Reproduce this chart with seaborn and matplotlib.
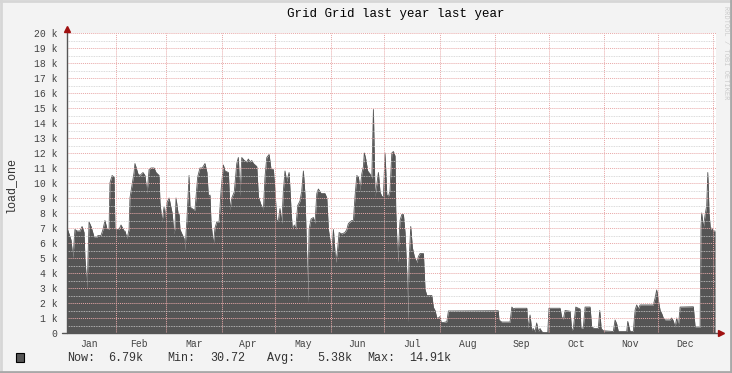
import matplotlib
matplotlib.use("Agg")
import matplotlib.pyplot as plt
import matplotlib.patches as mpatches
from matplotlib.lines import Line2D
import seaborn as sns
import pandas as pd

# load_one in thousands, sampled on day-of-year (0 = Jan 1)
jan_mar_days = [3.4, 4.5, 5.6, 6.7, 7.8, 9.0, 10.6, 11.8, 12.9, 13.4, 14.6, 15.7, 16.8, 18.5,
                20.2, 20.7, 22.4, 23.5, 24.6, 25.8, 26.9, 27.4, 28.6, 29.7, 30.2, 32.5, 33.6,
                35.3, 35.8, 37.0, 38.1, 38.6, 40.9, 41.4, 43.1, 44.2, 45.9, 47.0, 48.2, 49.3,
                50.4, 52.1, 53.2, 54.9, 55.4, 56.6, 57.7, 58.2, 59.4, 60.5, 61.0, 62.2, 63.3,
                63.8, 64.4, 65.5, 66.1, 66.6, 67.7, 68.9, 69.4, 70.5, 71.7, 72.2, 74.5, 75.0]
jan_mar_vals = [7.0, 6.6, 6.2, 5.0, 6.9, 6.8, 6.8, 7.1, 6.7, 5.0, 2.9, 7.4, 7.1, 6.4,
                6.4, 6.5, 6.5, 6.9, 7.5, 6.9, 6.9, 10.0, 10.5, 10.4, 6.9, 6.9, 7.2,
                6.8, 6.8, 6.3, 6.9, 9.0, 10.7, 11.3, 10.6, 10.5, 10.7, 10.5, 9.3, 10.9,
                11.0, 11.0, 10.7, 10.5, 8.7, 7.4, 8.4, 7.7, 8.7, 9.0, 8.7, 8.0, 6.6,
                7.0, 9.0, 8.0, 7.9, 6.9, 6.6, 6.3, 5.5, 7.6, 10.5, 8.4, 8.2, 8.2]

mar_may_days = [76.5, 77.8, 79.1, 80.6, 81.7, 82.5, 83.4, 84.0, 85.3, 86.2, 87.2, 88.5, 89.6,
                90.9, 91.8, 93.7, 94.6, 95.6, 97.0, 98.4, 99.3, 100.2, 101.2, 102.6, 104.0,
                104.9, 105.8, 106.8, 107.7, 109.6, 110.5, 111.8, 113.3, 114.2, 115.2, 116.5,
                117.6, 118.9, 119.8, 120.8, 121.7, 122.6, 123.6, 124.5, 125.4, 126.4, 127.7,
                128.8, 129.5, 130.6, 131.4, 132.5, 133.8, 134.8, 135.7, 136.6, 137.6, 138.1,
                138.9, 140.0, 141.3, 142.2, 143.2, 144.1, 145.6, 146.9]
mar_may_vals = [10.4, 11.0, 11.0, 11.3, 10.7, 9.1, 9.2, 7.3, 5.9, 7.0, 7.4, 7.4, 9.5,
                11.2, 10.8, 10.7, 8.2, 9.0, 9.4, 11.3, 11.7, 9.1, 11.7, 11.5, 11.4,
                11.6, 11.4, 11.5, 11.3, 11.1, 9.1, 8.6, 8.2, 10.4, 11.7, 11.9,
                10.9, 10.9, 9.5, 7.5, 7.5, 8.3, 7.3, 9.5, 10.8, 10.1, 10.7,
                8.2, 6.9, 7.2, 6.9, 8.5, 8.8, 9.5, 10.8, 9.2, 5.0, 2.0,
                6.9, 7.6, 7.7, 7.3, 9.3, 9.6, 9.3, 9.3]

jun_aug_days = [147.8, 148.8, 149.7, 150.6, 151.6, 152.5, 153.8, 154.7, 155.7, 157.2, 159.0,
                160.0, 160.9, 162.8, 163.7, 164.6, 165.6, 166.5, 167.4, 168.4, 169.3, 169.8,
                170.6, 171.7, 173.0, 174.0, 174.9, 175.8, 176.8, 177.7, 178.6, 179.6, 180.5,
                181.4, 182.4, 183.3, 184.2, 185.2, 186.1, 187.0, 187.4, 188.5, 189.8, 190.8,
                191.7, 192.6, 193.6, 194.1, 194.8, 195.8, 196.7, 197.8, 199.2, 200.1, 201.0,
                202.9, 203.8, 204.8, 206.6, 207.6, 208.5, 209.4, 210.4, 211.3, 212.2, 212.8,
                214.1, 216.0, 216.9]
jun_aug_vals = [9.3, 9.0, 6.9, 6.2, 5.4, 6.9, 4.7, 5.4, 6.7, 6.6, 6.7,
                6.9, 7.3, 7.5, 7.5, 9.1, 10.5, 10.4, 9.5, 10.6, 11.1, 12.0,
                11.6, 10.8, 10.6, 10.3, 14.9, 9.1, 9.9, 10.7, 9.4, 9.1, 9.1,
                12.0, 9.2, 9.1, 9.5, 12.0, 12.1, 11.8, 8.2, 4.7, 7.5, 7.9,
                7.9, 6.7, 4.0, 0.7, 4.6, 7.1, 5.7, 5.1, 4.7, 5.1, 5.3,
                5.3, 2.9, 2.5, 2.5, 2.5, 1.7, 1.5, 1.0, 1.0, 1.1, 0.7,
                0.7, 0.75, 1.47]

sep_dec_days = [244.8, 245.2, 246.7, 251.4, 252.4, 253.3, 254.2, 260.8, 261.3, 262.6, 263.5,
                264.4, 265.4, 266.3, 267.2, 268.2, 269.1, 270.0, 272.5, 273.2, 279.4, 280.3,
                281.2, 282.2, 285.0, 285.9, 286.8, 288.2, 289.6, 290.6, 291.1, 292.4, 293.4,
                296.2, 297.1, 298.6, 300.8, 301.6, 302.4, 303.6, 309.2, 310.2, 311.1, 312.0,
                316.7, 317.3, 318.6, 320.4, 321.4, 322.3, 323.2, 324.2, 331.6, 332.6, 333.5,
                334.4, 335.4, 336.3, 337.2, 338.2, 341.0, 341.9, 342.8, 343.8, 344.7, 345.6,
                346.6, 354.0, 355.0, 357.8, 358.3, 358.7, 359.6, 360.5, 361.5, 362.1, 362.8,
                363.6, 364.3, 365.2, 366.2]
sep_dec_vals = [1.49, 0.87, 0.73, 0.73, 1.73, 1.6, 1.65, 1.65, 0.33, 1.2, 0.2,
                0.3, 0.07, 0.67, 0.1, 0.3, 0.1, 0.03, 0.03, 1.65, 1.65, 1.07,
                0.9, 1.5, 1.45, 0.2, 0.3, 1.73, 1.65, 1.6, 0.3, 0.35, 1.73,
                1.73, 0.4, 0.3, 0.3, 1.5, 0.3, 0.15, 0.1, 0.87, 0.6, 0.1,
                0.1, 0.77, 0.1, 0.1, 1.53, 1.87, 1.6, 1.87, 1.87, 2.33, 2.87,
                2.2, 1.5, 1.3, 1.0, 0.87, 0.87, 1.0, 0.8, 0.4, 1.0, 0.4,
                1.73, 1.75, 0.4, 0.4, 7.1, 8.0, 7.0, 7.8, 8.5, 10.7, 8.0,
                6.87, 7.0, 6.8, 6.8]

month_starts = [31, 59, 90, 120, 151, 181, 212, 243, 273, 304, 334, 365]
month_names = ["Jan", "Feb", "Mar", "Apr", "May", "Jun", "Jul", "Aug", "Sep", "Oct", "Nov", "Dec"]
legend_labels = ["Now:", "6.79k", "Min:", "30.72", "Avg:", "5.38k", "Max:", "14.91k"]

df = pd.DataFrame({
    "day": jan_mar_days + mar_may_days + jun_aug_days + sep_dec_days,
    "load": jan_mar_vals + mar_may_vals + jun_aug_vals + sep_dec_vals,
})

sns.set_style("white")
plt.rcParams['font.family'] = ['Liberation Mono', 'DejaVu Sans Mono']

W, H = 732, 373
fig = plt.figure(figsize=(W / 100, H / 100), dpi=100, facecolor='#f3f3f3')
ax = fig.add_axes([67 / W, (H - 333) / H, 649 / W, 300 / H])
ax.set_facecolor('white')

area_col = '#555555'
ax.fill_between(df["day"], df["load"], 0, color=area_col, linewidth=0, zorder=1)
sns.lineplot(data=df, x="day", y="load", color=area_col, linewidth=0.6, ax=ax, zorder=1)

ax.set_xlim(3.36, 366.7)
ax.set_ylim(0, 20)

# grid, drawn on top of the area like rrdtool
ax.set_axisbelow(False)
ax.set_yticks(range(0, 21))
ax.set_yticklabels(["0"] + [f"{v} k" for v in range(1, 21)])
ax.set_yticks([v + 0.5 for v in range(20)], minor=True)
ax.set_xticks(month_starts)
ax.set_xticklabels([])
ax.set_xticks([s - 15.5 for s in month_starts], minor=True)
ax.set_xticklabels(month_names, minor=True)
ax.grid(True, which='major', color='#e8a8a8', linestyle=(0, (1, 1)), linewidth=0.7, zorder=3)
ax.grid(True, which='minor', axis='y', color='#cfcfcf', linestyle=(0, (1, 1)), linewidth=0.6, zorder=3)

ax.tick_params(axis='y', which='major', length=3, width=0.8, color='#555555', pad=4,
               labelsize=7, labelcolor='#444444')
ax.tick_params(axis='y', which='minor', length=0)
ax.tick_params(axis='x', which='major', length=3, width=0.7, color='#e8a8a8')
ax.tick_params(axis='x', which='minor', length=0, pad=4, labelsize=7, labelcolor='#444444')
ax.set_xlabel("")
ax.set_ylabel("")
for s in ax.spines.values():
    s.set_visible(False)

# axis lines with arrows
ax.add_line(Line2D([0, 0], [0, 1.012], transform=ax.transAxes, color='#555555',
                   linewidth=1, clip_on=False, zorder=5))
ax.add_line(Line2D([-5 / 649, 1.0045], [0, 0], transform=ax.transAxes, color='#555555',
                   linewidth=1, clip_on=False, zorder=5))
ax.plot([0], [1.015], marker='^', markersize=4, color='#a01010', transform=ax.transAxes,
        clip_on=False, zorder=6)
ax.plot([1.0075], [0], marker='>', markersize=4, color='#a01010', transform=ax.transAxes,
        clip_on=False, zorder=6)

# texts
fig.text(396 / W, 1 - 14 / H, "Grid Grid last year last year", ha='center', va='center',
         fontsize=9, color='#000000')
fig.text(10 / W, 1 - 185 / H, "load_one", rotation=90, ha='center', va='center',
         fontsize=8.5, color='#333333')
fig.text(725 / W, 1 - 6 / H, "RRDTOOL / TOBI OETIKER", rotation=270, ha='center', va='top',
         fontsize=5, color='#cccccc')

legend_x = [67, 108, 167, 210, 267, 317, 367, 409]
for lx, lab in zip(legend_x, legend_labels):
    fig.text(lx / W, 1 - 358 / H, lab, ha='left', va='center', fontsize=8.5, color='#333333')
fig.patches.append(mpatches.Rectangle((16 / W, 1 - 362 / H), 8 / W, 9 / H, transform=fig.transFigure,
                                      facecolor=area_col, edgecolor='black', linewidth=0.8))

# outer 3d frame
fig.add_artist(Line2D([0, 1], [1 - 1 / H, 1 - 1 / H], color='#d6d6d6', linewidth=2))
fig.add_artist(Line2D([1 / W, 1 / W], [0, 1], color='#d6d6d6', linewidth=2))
fig.add_artist(Line2D([1 - 1 / W, 1 - 1 / W], [0, 1], color='#a8a8a8', linewidth=2))
fig.add_artist(Line2D([0, 1], [1 / H, 1 / H], color='#a8a8a8', linewidth=2))

fig.savefig("out.png", dpi=100, facecolor=fig.get_facecolor())
